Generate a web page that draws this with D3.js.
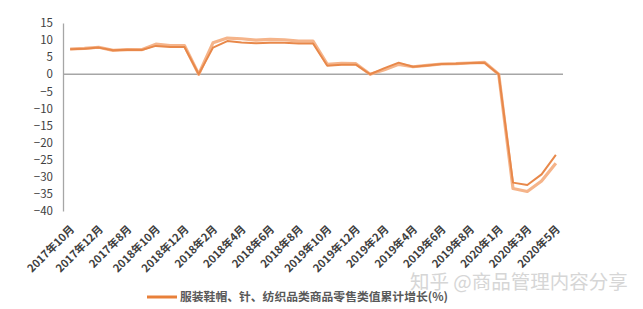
<!DOCTYPE html>
<html>
<head>
<meta charset="utf-8">
<script src="https://cdn.jsdelivr.net/npm/d3@7"></script>
<style>
  body { margin: 0; background: #fff; }
  text { font-family: "Noto Sans CJK SC", "Noto Sans", sans-serif; }
</style>
</head>
<body>
<div id="canvas"></div>
<script>
const w = 643, h = 309;

// categories in the (string-sorted) order of the source sheet
const categories = [
  "2017年10月","2017年11月","2017年12月","2017年7月","2017年8月","2017年9月",
  "2018年10月","2018年11月","2018年12月","2018年1月","2018年2月","2018年3月",
  "2018年4月","2018年5月","2018年6月","2018年7月","2018年8月","2018年9月",
  "2019年10月","2019年11月","2019年12月","2019年1月","2019年2月","2019年3月",
  "2019年4月","2019年5月","2019年6月","2019年7月","2019年8月","2019年9月",
  "2020年1月","2020年2月","2020年3月","2020年4月","2020年5月"
];
// legend series (dark orange)
const growth = [7.3,7.5,7.8,7.0,7.2,7.1, 8.3,8.0,8.0,0,7.8,9.7,
                9.3,9.1,9.2,9.2,9.0,9.0, 2.5,2.8,2.8,0,1.8,3.4,
                2.2,2.6,3.0,3.1,3.3,3.4, 0,-31.7,-32.4,-29.3,-23.6];
// second, lighter series
const growth2 = [7.4,7.6,7.9,7.0,7.2,7.2, 8.8,8.4,8.4,0,9.2,10.6,
                 10.4,10.0,10.2,10.1,9.7,9.7, 2.9,3.2,3.1,0,1.3,2.9,
                 2.2,2.6,3.0,3.1,3.3,3.5, 0,-33.4,-34.3,-31.2,-26.0];
const yTicks = [15,10,5,0,-5,-10,-15,-20,-25,-30,-35,-40];
const legendLabel = "服装鞋帽、针、纺织品类商品零售类值累计增长(%)";
const watermark = "知乎 @商品管理内容分享";

let svg = d3.select("#canvas")
            .append("svg")
                .attr("width", w)
                .attr("height", h)
                .attr("viewBox", [0, 0, w, h]);

let x = d3.scaleBand()
    .domain(categories)
    .range([63, 563])
    .padding(0);
let y = d3.scaleLinear()
    .domain([-40, 15])
    .range([211, 23]);

let cx = (c) => x(c) + x.bandwidth() / 2;

// y axis
let gY = svg.append("g")
    .attr("transform", "translate(63,0)")
    .call(d3.axisLeft(y).tickValues(yTicks).tickSize(0).tickSizeOuter(0).tickPadding(10));
gY.select(".domain").attr("stroke", "#a6a6a6").attr("stroke-width", 1.3);
gY.selectAll("text").attr("fill", "#404040").style("font-size", "11.5px");

// zero line
svg.append("line")
    .attr("x1", 63).attr("x2", 563)
    .attr("y1", y(0)).attr("y2", y(0))
    .attr("stroke", "#a6a6a6").attr("stroke-width", 1.3);

// x labels (every other category)
let gX = svg.append("g")
    .attr("transform", "translate(0,211)")
    .call(d3.axisBottom(x).tickValues(categories.filter((d, i) => i % 2 == 0)).tickSize(0));
gX.select(".domain").remove();
gX.selectAll("text")
    .attr("fill", "#404040")
    .style("font-size", "11px")
    .style("font-weight", "bold")
    .attr("text-anchor", "end")
    .attr("dy", null)
    .attr("y", 0)
    .attr("transform", "translate(5,19) rotate(-45)");

let line = d3.line()
    .x((d, i) => cx(categories[i]))
    .y((d) => y(d));

svg.append("path")
    .datum(growth2)
    .attr("d", line)
    .attr("fill", "none")
    .attr("stroke", "#f5b48a")
    .attr("stroke-width", 3.2)
    .attr("stroke-linejoin", "round");
svg.append("path")
    .datum(growth)
    .attr("d", line)
    .attr("fill", "none")
    .attr("stroke", "#e8884a")
    .attr("stroke-width", 2)
    .attr("stroke-linejoin", "round");

// legend
svg.append("line")
    .attr("x1", 147).attr("x2", 177)
    .attr("y1", 297).attr("y2", 297)
    .attr("stroke", "#e8803a").attr("stroke-width", 3);
svg.append("text")
    .attr("x", 180).attr("y", 301)
    .attr("fill", "#595959")
    .style("font-size", "11.8px")
    .style("font-weight", "bold")
    .text(legendLabel);

// watermark
svg.append("text")
    .attr("x", 410).attr("y", 289)
    .attr("fill", "#d6d6d6")
    .style("font-size", "19.5px")
    .text(watermark);
</script>
</body>
</html>
